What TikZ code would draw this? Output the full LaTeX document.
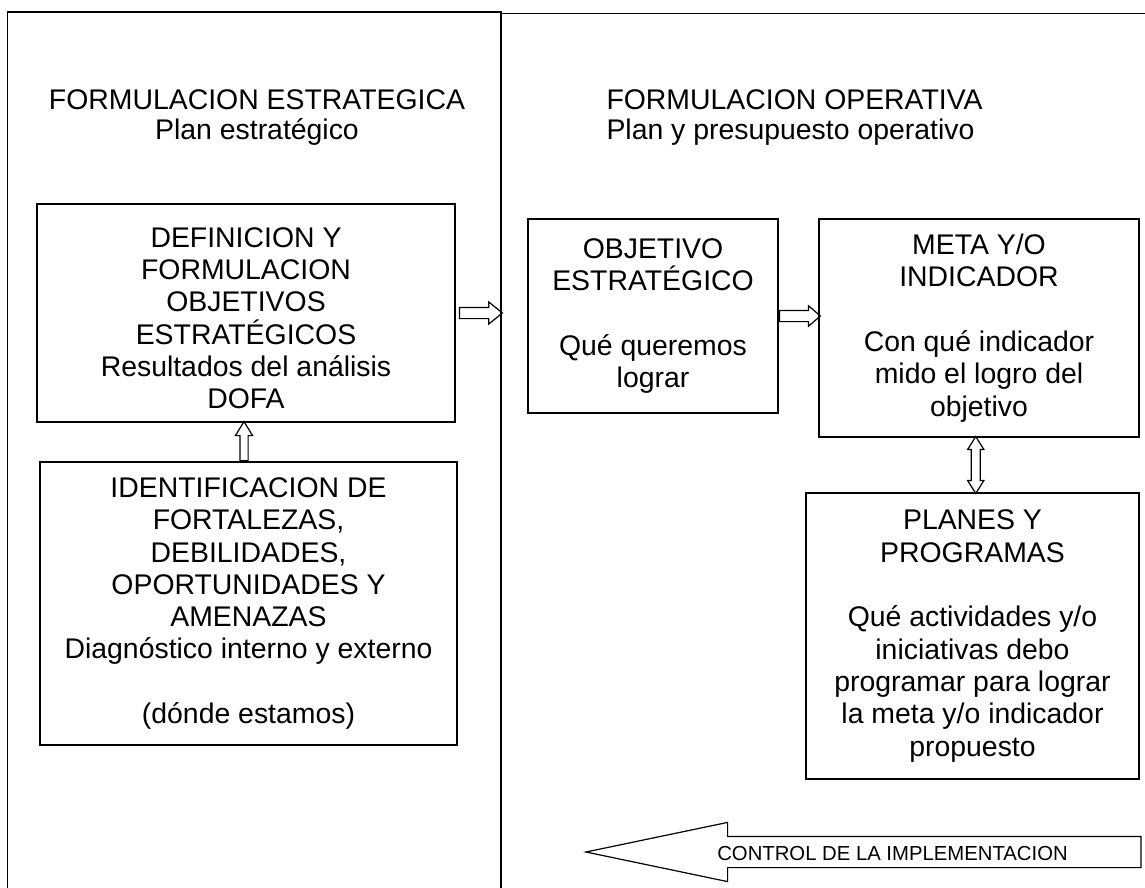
\documentclass[tikz,border=0pt]{standalone}
\usepackage{fontspec}
\setmainfont{Liberation Sans}
\usetikzlibrary{shapes.arrows,calc}
\newcommand{\fuentecaja}{\fontsize{28.4}{32.3}\selectfont}
\newcommand{\fuentetitulo}{\fontsize{28.4}{30}\selectfont}
\newcommand{\fuentecontrol}{\fontsize{20.3}{24}\selectfont}

\begin{document}
\begin{tikzpicture}[x=1pt, y=-1pt,
  caja/.style={draw, line width=1.6pt, align=center, inner sep=0pt, font=\fuentecaja},
  flechab/.style={draw, line width=1.2pt, single arrow, single arrow head indent=0pt, inner xsep=0pt}]
\useasboundingbox (0,0) rectangle (1145,888);
% marcos de las dos etapas
\draw[line width=1.8pt] (7.5,892) -- (7.5,12) -- (501,12) -- (501,892);
\draw[line width=1.8pt] (501,13.5) -- (1150,13.5);
% titulos
\node[font=\fuentetitulo, align=center] (titest) at (257,118) {FORMULACION ESTRATEGICA\\Plan estratégico};
\node[font=\fuentetitulo, align=left, anchor=west] (titop) at (603,118) {FORMULACION OPERATIVA\\Plan y presupuesto operativo};
% formulacion estrategica
\node[caja, minimum width=418, minimum height=218] (def) at (246,313) {\rule{0pt}{30pt}DEFINICION Y\\FORMULACION\\OBJETIVOS\\ESTRATÉGICOS\\Resultados del análisis\\DOFA};
\node[caja, minimum width=417, minimum height=283] (ident) at (248.5,603.5) {IDENTIFICACION DE\\FORTALEZAS,\\DEBILIDADES,\\OPORTUNIDADES Y\\AMENAZAS\\Diagnóstico interno y externo\\[32.3pt](dónde estamos)};
% formulacion operativa
\node[caja, minimum width=250, minimum height=194] (obj) at (653,316) {OBJETIVO\\ESTRATÉGICO\\[32.3pt]Qué queremos\\lograr};
\node[caja, minimum width=320, minimum height=218] (meta) at (979,328) {META Y/O\\INDICADOR\\[32.3pt]Con qué indicador\\mido el logro del\\objetivo};
\node[caja, minimum width=333, minimum height=286] (planes) at (972.5,636) {PLANES Y\\PROGRAMAS\\[32.3pt]Qué actividades y/o\\iniciativas debo\\programar para lograr\\la meta y/o indicador\\propuesto};
% flechas
\node[flechab, anchor=tail, rotate=90, inner ysep=3.5pt, single arrow head extend=4.5pt, single arrow tip angle=63, minimum height=39] (f1) at ([xshift=-4.5pt]ident.north) {};
\node[flechab, anchor=tail, inner ysep=5pt, single arrow head extend=5.5pt, single arrow tip angle=78, minimum height=43] (f2) at ([xshift=3pt]def.east) {};
\node[flechab, anchor=tail, inner ysep=5pt, single arrow head extend=4.5pt, single arrow tip angle=81, minimum height=41] (f3) at (obj.east) {};
\node[draw, line width=1.2pt, double arrow, double arrow head indent=0pt, rotate=90, inner xsep=0pt, inner ysep=3.85pt, double arrow head extend=3.65pt, double arrow tip angle=64, minimum height=57] (f4) at ($(meta.south)!0.5!(planes.north)$) {};
% control de la implementacion
\node[flechab, anchor=tip, rotate=180, inner ysep=15pt, single arrow head extend=14pt, single arrow tip angle=23.6, minimum height=555] (fcontrol) at (583,852) {};
\node[font=\fuentecontrol] (control) at (892.5,854) {CONTROL DE LA IMPLEMENTACION};
\end{tikzpicture}
\end{document}
